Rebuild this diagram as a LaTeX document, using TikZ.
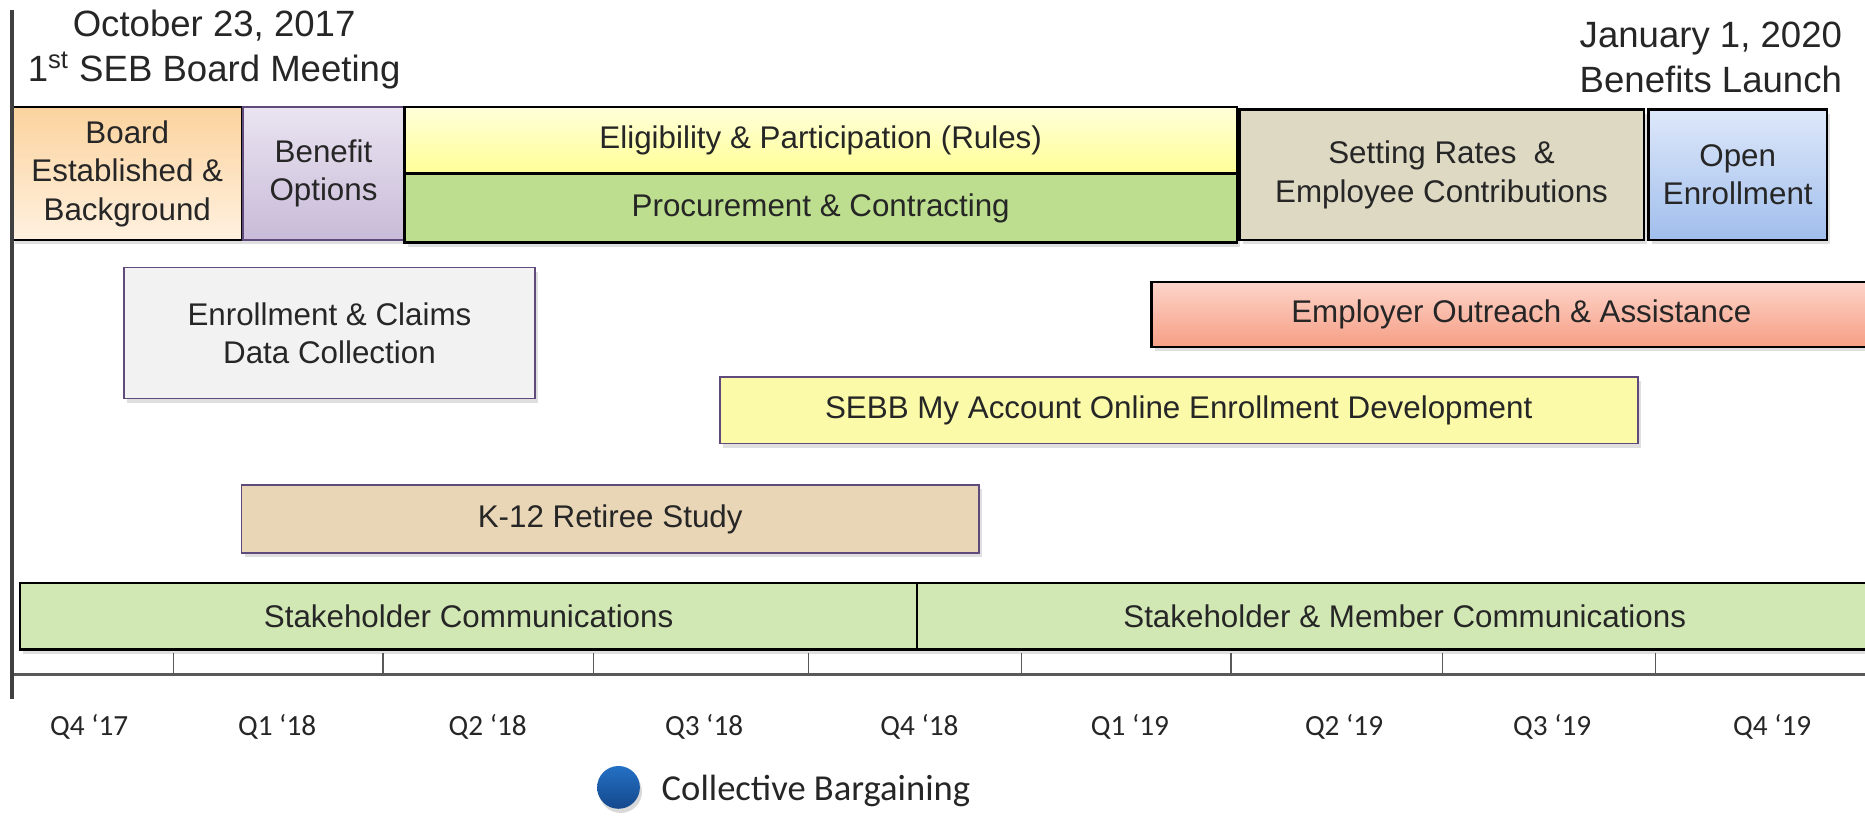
\documentclass[tikz,border=0pt]{standalone}
\usepackage{fontspec}
\setmainfont{Liberation Sans}
\newfontfamily\calfont{Carlito}
\usetikzlibrary{shadows}

\definecolor{inktext}{RGB}{38,38,38}
\definecolor{axisgray}{RGB}{89,89,89}
\definecolor{purpleline}{RGB}{96,74,123}
\definecolor{boardtop}{RGB}{251,211,158}
\definecolor{boardbot}{RGB}{255,241,224}
\definecolor{optiontop}{RGB}{234,228,241}
\definecolor{optionbot}{RGB}{200,187,216}
\definecolor{rulestop}{RGB}{255,255,218}
\definecolor{rulesbot}{RGB}{255,255,150}
\definecolor{procgreen}{RGB}{188,222,142}
\definecolor{ratesfill}{RGB}{221,217,195}
\definecolor{opentop}{RGB}{222,232,250}
\definecolor{openbot}{RGB}{160,190,236}
\definecolor{claimsfill}{RGB}{242,242,242}
\definecolor{outreachtop}{RGB}{253,212,202}
\definecolor{outreachbot}{RGB}{246,158,132}
\definecolor{sebbfill}{RGB}{250,250,168}
\definecolor{retireefill}{RGB}{233,214,182}
\definecolor{stakefill}{RGB}{210,232,180}
\definecolor{bargaintop}{RGB}{36,112,196}
\definecolor{bargainbot}{RGB}{20,72,140}

\begin{document}
\begin{tikzpicture}[x=0.02cm,y=-0.02cm]
\tikzset{
  phase/.style={draw=black, line width=1.1pt, inner sep=0pt, align=center,
    text=inktext, font=\fontsize{15}{18.4}\selectfont,
    drop shadow={shadow xshift=1.5pt, shadow yshift=-2pt, opacity=0.25}},
  track/.style={phase, draw=purpleline, line width=0.8pt},
  headline/.style={inner sep=0pt, align=center, text=inktext,
    font=\fontsize{17.5}{21.5}\selectfont},
  qlabel/.style={inner sep=0pt, text=inktext, font=\calfont\fontsize{14}{17}\selectfont},
}
\useasboundingbox (0,0) rectangle (1568,688);
\clip (0,0) rectangle (1568,688);

% milestones
\node[headline] (start) at (180,42) {October 23, 2017\\1\textsuperscript{st} SEB Board Meeting};
\node[headline, align=right, anchor=east] (launch) at (1549,48) {January 1, 2020\\Benefits Launch};

% first row of phases
\node[phase, top color=boardtop, bottom color=boardbot, minimum width=3.88cm, minimum height=2.24cm]
  (board) at (107,146) {Board\\Established \&\\Background};
\node[phase, draw=purpleline, top color=optiontop, bottom color=optionbot, minimum width=2.72cm, minimum height=2.24cm]
  (options) at (272,146) {Benefit\\Options};
\node[phase, top color=rulestop, bottom color=rulesbot, minimum width=14cm, minimum height=1.12cm]
  (rules) at (690,118) {Eligibility \& Participation (Rules)};
\node[phase, fill=procgreen, minimum width=14cm, minimum height=1.16cm]
  (procure) at (690,175) {Procurement \& Contracting};
\node[phase, fill=ratesfill, minimum width=6.8cm, minimum height=2.2cm]
  (rates) at (1212,147) {Setting Rates~ \&\\Employee Contributions};
\node[phase, top color=opentop, bottom color=openbot, minimum width=3cm, minimum height=2.2cm]
  (enroll) at (1461,147) {Open\\Enrollment};

% parallel tracks
\node[track, fill=claimsfill, minimum width=6.92cm, minimum height=2.2cm]
  (claims) at (277,280) {Enrollment \& Claims\\Data Collection};
\node[phase, top color=outreachtop, bottom color=outreachbot, minimum width=12.44cm, minimum height=1.1cm]
  (outreach) at (1279,264.5) {Employer Outreach \& Assistance};
\node[track, fill=sebbfill, minimum width=15.44cm, minimum height=1.12cm]
  (sebb) at (991,345) {SEBB My Account Online Enrollment Development};
\node[track, fill=retireefill, minimum width=12.4cm, minimum height=1.14cm]
  (retiree) at (513,436.5) {K-12 Retiree Study};
\node[phase, fill=stakefill, minimum width=15.08cm, minimum height=1.12cm]
  (stake) at (394,518) {Stakeholder Communications};
\node[phase, fill=stakefill, minimum width=16.4cm, minimum height=1.12cm]
  (member) at (1181,518) {Stakeholder \& Member Communications};

% time axis
\coordinate (axistop) at (10,8);
\coordinate (axisbot) at (10,588);
\coordinate (axisleft) at (10,567);
\coordinate (axisright) at (1570,567);
\draw[axisgray, line width=1.2pt] (axisleft) -- (axisright);
\foreach \x in {146,322,499,680,859,1035,1213,1392}
  \draw[axisgray, line width=0.6pt] (\x,549) -- (\x,567);
\draw[black!75, line width=2.2pt] (axistop) -- (axisbot);
\foreach \x/\q [count=\i] in {75/Q4 ‘17, 233/Q1 ‘18, 410/Q2 ‘18, 592/Q3 ‘18, 773/Q4 ‘18,
    950/Q1 ‘19, 1130/Q2 ‘19, 1305/Q3 ‘19, 1490/Q4 ‘19}
  \node[qlabel] (q\i) at (\x,611) {\q};

% legend
\node[circle, minimum size=0.72cm, inner sep=0pt, top color=bargaintop, bottom color=bargainbot,
  drop shadow={shadow xshift=1pt, shadow yshift=-2pt, opacity=0.3}] (cb) at (520,662) {};
\node[qlabel, anchor=west, font=\calfont\fontsize{17.5}{20}\selectfont] (cbtext) at (556,665) {Collective Bargaining};
\end{tikzpicture}
\end{document}
